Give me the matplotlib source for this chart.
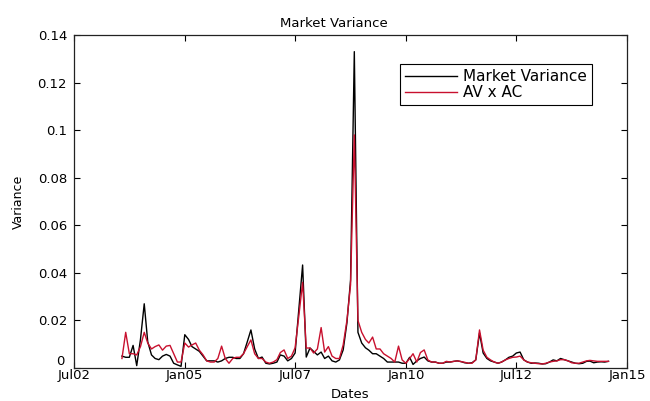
import numpy as np
import pandas as pd
import matplotlib
matplotlib.use('Agg')
import matplotlib.pyplot as plt
import matplotlib.dates as mdates
from matplotlib.transforms import blended_transform_factory, offset_copy

# monthly observations, Aug 2003 .. Aug 2014
dates = pd.date_range('2003-08-01', periods=133, freq='MS')

market_var = [
    0.005, 0.0045, 0.0045, 0.0095, 0.001, 0.012, 0.027, 0.011, 0.0055, 0.004,
    0.0035, 0.005, 0.0057, 0.005, 0.002, 0.0013, 0.0007, 0.014, 0.012, 0.009,
    0.008, 0.007, 0.005, 0.003, 0.003, 0.003, 0.0025, 0.003, 0.004, 0.0045,
    0.0045, 0.004, 0.004, 0.006, 0.011, 0.016, 0.008, 0.004, 0.0046, 0.002,
    0.0017, 0.002, 0.0025, 0.0055, 0.005, 0.003, 0.004, 0.0063, 0.025, 0.0433,
    0.0046, 0.0084, 0.007, 0.0055, 0.0067, 0.004, 0.005, 0.003, 0.0025, 0.0034,
    0.0076, 0.019, 0.037, 0.133, 0.015, 0.0105, 0.0085, 0.0075, 0.006, 0.006,
    0.005, 0.004, 0.0025, 0.0025, 0.0025, 0.0025, 0.002, 0.002, 0.0045, 0.0015,
    0.003, 0.004, 0.0046, 0.003, 0.0025, 0.0025, 0.002, 0.002, 0.0025, 0.0025,
    0.0028, 0.003, 0.0027, 0.0022, 0.002, 0.0022, 0.0034, 0.0147, 0.0063, 0.004,
    0.003, 0.0025, 0.002, 0.0025, 0.0034, 0.0045, 0.005, 0.0063, 0.0067, 0.0034,
    0.0025, 0.002, 0.0021, 0.002, 0.0017, 0.0018, 0.0025, 0.0034, 0.003, 0.004,
    0.0035, 0.003, 0.0025, 0.002, 0.0018, 0.002, 0.0028, 0.0029, 0.0022, 0.0025,
    0.0026, 0.0025, 0.0028,
]

av_ac = [
    0.004, 0.015, 0.006, 0.006, 0.0055, 0.009, 0.015, 0.0105, 0.008, 0.009,
    0.0097, 0.0075, 0.0092, 0.0095, 0.006, 0.0025, 0.0025, 0.0105, 0.0088, 0.0097,
    0.0105, 0.0075, 0.0055, 0.003, 0.0025, 0.0025, 0.004, 0.0092, 0.004, 0.002,
    0.004, 0.0045, 0.0045, 0.006, 0.009, 0.0118, 0.006, 0.004, 0.004, 0.0025,
    0.002, 0.0025, 0.0035, 0.0065, 0.0076, 0.004, 0.005, 0.0085, 0.022, 0.036,
    0.0084, 0.0084, 0.0063, 0.008, 0.017, 0.0067, 0.009, 0.005, 0.004, 0.004,
    0.0097, 0.02, 0.035, 0.098, 0.02, 0.015, 0.012, 0.0105, 0.013, 0.008,
    0.008, 0.006, 0.005, 0.004, 0.0025, 0.0092, 0.0034, 0.002, 0.004, 0.006,
    0.0025, 0.0065, 0.0076, 0.0034, 0.0025, 0.0025, 0.002, 0.002, 0.0028, 0.0025,
    0.0028, 0.003, 0.0027, 0.0024, 0.002, 0.002, 0.0034, 0.016, 0.0075, 0.0045,
    0.0034, 0.0025, 0.002, 0.0025, 0.0034, 0.004, 0.0045, 0.0046, 0.005, 0.0034,
    0.0025, 0.0022, 0.002, 0.0018, 0.0017, 0.002, 0.0025, 0.0028, 0.003, 0.0035,
    0.0035, 0.003, 0.0022, 0.002, 0.002, 0.0025, 0.003, 0.0032, 0.003, 0.0028,
    0.0028, 0.0028, 0.0028,
]

xtick_dates = ['2002-07-01', '2005-01-01', '2007-07-01', '2010-01-01', '2012-07-01', '2015-01-01']
yticks = [0, 0.02, 0.04, 0.06, 0.08, 0.1, 0.12, 0.14]
ytick_labels = ['0', '0.02', '0.04', '0.06', '0.08', '0.1', '0.12', '0.14']

plt.rcParams['font.family'] = 'DejaVu Sans'

fig = plt.figure(figsize=(6.5, 4.01), dpi=100)
ax = fig.add_axes([74 / 650, 1 - 368 / 401, 553 / 650, 333 / 401])

ax.plot(dates, market_var, color='black', lw=1.0, label='Market Variance')
ax.plot(dates, av_ac, color='#c8102e', lw=1.0, label='AV x AC')

ax.set_xlim(pd.Timestamp('2002-07-01'), pd.Timestamp('2015-01-01'))
ax.set_ylim(0, 0.14)
ax.set_xticks(pd.to_datetime(xtick_dates))
ax.xaxis.set_major_formatter(mdates.DateFormatter('%b%y'))
ax.set_yticks(yticks)
# the "0" label is drawn separately, sitting on the axis line like MATLAB does
ax.set_yticklabels([''] + ytick_labels[1:])
trans = offset_copy(blended_transform_factory(ax.transAxes, ax.transData),
                    fig=fig, x=-7, y=0, units='points')
ax.text(0, yticks[0], ytick_labels[0], transform=trans, ha='right', va='bottom',
        fontsize=9.5)

ax.tick_params(direction='in', length=4, width=0.8, top=True, right=True, labelsize=9.5)
ax.tick_params(axis='x', pad=1)
ax.tick_params(axis='y', pad=5)
for s in ax.spines.values():
    s.set_linewidth(0.9)
    s.set_color('#222222')

ax.set_title('Market Variance', fontsize=9.5, pad=6, x=0.47)
ax.set_xlabel('Dates', fontsize=9.5, labelpad=4)
ax.set_ylabel('Variance', fontsize=9, labelpad=9)

leg = ax.legend(loc='upper left', bbox_to_anchor=(0.5895, 0.913), fontsize=11,
                handlelength=3.4, handletextpad=0.35, labelspacing=0.05,
                borderpad=0.35, borderaxespad=0, fancybox=False, framealpha=1,
                edgecolor='black')
leg.get_frame().set_linewidth(0.8)

fig.savefig('out.png', dpi=100)
